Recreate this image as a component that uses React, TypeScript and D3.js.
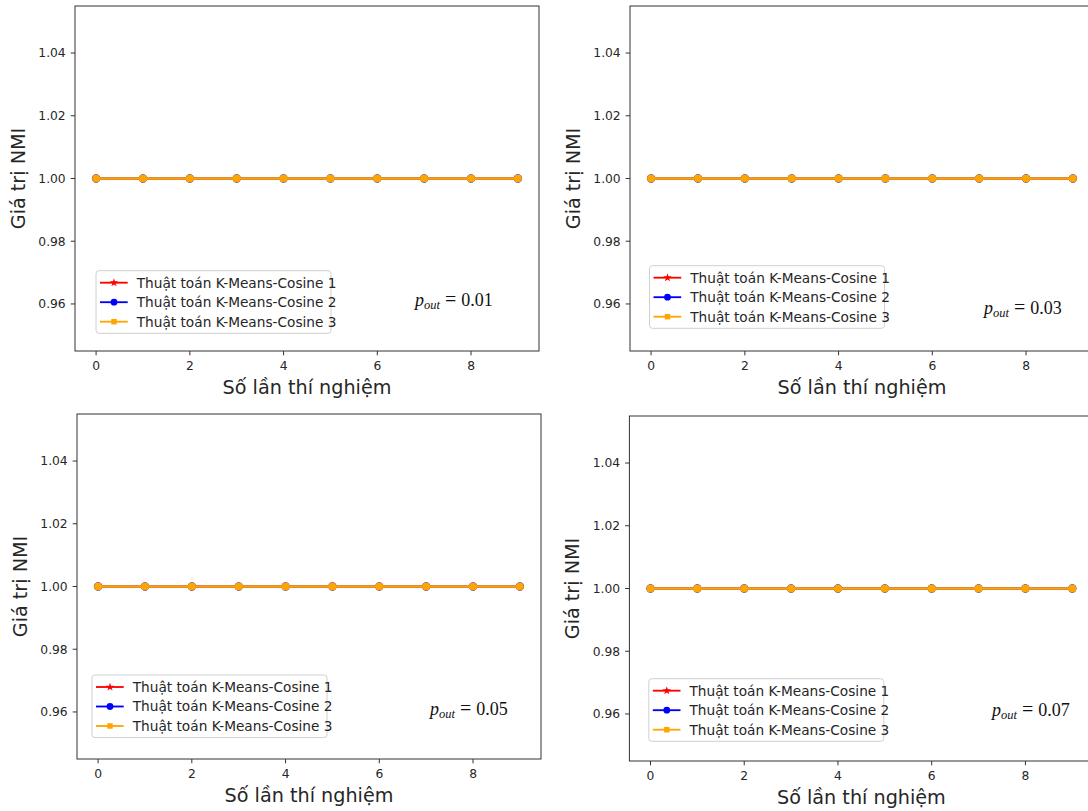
import React from "react";
import * as d3 from "d3";

// ---------- data ----------
const experiments = [0, 1, 2, 3, 4, 5, 6, 7, 8, 9];
const xTicks = [0, 2, 4, 6, 8];
const yTicks = [0.96, 0.98, 1.0, 1.02, 1.04];
const seriesNames = [
  "Thuật toán K-Means-Cosine 1",
  "Thuật toán K-Means-Cosine 2",
  "Thuật toán K-Means-Cosine 3",
];
const pOutValues = ["0.01", "0.03", "0.05", "0.07"];

const nmiP001Alg1 = [1, 1, 1, 1, 1, 1, 1, 1, 1, 1];
const nmiP001Alg2 = [1, 1, 1, 1, 1, 1, 1, 1, 1, 1];
const nmiP001Alg3 = [1, 1, 1, 1, 1, 1, 1, 1, 1, 1];
const nmiP003Alg1 = [1, 1, 1, 1, 1, 1, 1, 1, 1, 1];
const nmiP003Alg2 = [1, 1, 1, 1, 1, 1, 1, 1, 1, 1];
const nmiP003Alg3 = [1, 1, 1, 1, 1, 1, 1, 1, 1, 1];
const nmiP005Alg1 = [1, 1, 1, 1, 1, 1, 1, 1, 1, 1];
const nmiP005Alg2 = [1, 1, 1, 1, 1, 1, 1, 1, 1, 1];
const nmiP005Alg3 = [1, 1, 1, 1, 1, 1, 1, 1, 1, 1];
const nmiP007Alg1 = [1, 1, 1, 1, 1, 1, 1, 1, 1, 1];
const nmiP007Alg2 = [1, 1, 1, 1, 1, 1, 1, 1, 1, 1];
const nmiP007Alg3 = [1, 1, 1, 1, 1, 1, 1, 1, 1, 1];

const panelSeries = [
  [nmiP001Alg1, nmiP001Alg2, nmiP001Alg3],
  [nmiP003Alg1, nmiP003Alg2, nmiP003Alg3],
  [nmiP005Alg1, nmiP005Alg2, nmiP005Alg3],
  [nmiP007Alg1, nmiP007Alg2, nmiP007Alg3],
];

const xLabel = "Số lần thí nghiệm";
const yLabel = "Giá trị NMI";

// ---------- layout / style ----------
const X_DOMAIN: [number, number] = [-0.45, 9.45];
const Y_DOMAIN: [number, number] = [0.945, 1.055];
const AX_W = 464;
const AX_H = 345;

const layout = [
  { left: 75, top: 6, legX: 21, legY: 264.7, annX: 340, annY: 300 },
  { left: 630, top: 6, legX: 19.5, legY: 259.7, annX: 354, annY: 308 },
  { left: 77, top: 414, legX: 15, legY: 261, annX: 353, annY: 301 },
  { left: 629.4, top: 416, legX: 19.4, legY: 262.7, annX: 362.6, annY: 300 },
];

const seriesStyle = [
  { color: "#ff0000", lineW: 1.8, plotSymbol: d3.symbolStar, plotSize: 16, legSymbol: d3.symbolStar, legSize: 22 },
  { color: "#0000ff", lineW: 1.8, plotSymbol: d3.symbolCircle, plotSize: 54, legSymbol: d3.symbolCircle, legSize: 36 },
  { color: "#ffa500", lineW: 2.3, plotSymbol: d3.symbolCircle, plotSize: 50, legSymbol: d3.symbolSquare, legSize: 30 },
];

const SANS = "'DejaVu Sans', sans-serif";
const SERIF = "'Liberation Serif', 'DejaVu Serif', serif";
const TEXT = "#262626";

function Panel({ idx }: { idx: number }) {
  const L = layout[idx];
  const x = d3.scaleLinear().domain(X_DOMAIN).range([0, AX_W]);
  const y = d3.scaleLinear().domain(Y_DOMAIN).range([AX_H, 0]);
  const line = d3
    .line<number>()
    .x((_, i) => x(experiments[i]))
    .y((d) => y(d));
  const series = panelSeries[idx];

  return (
    <g transform={`translate(${L.left},${L.top})`}>
      <rect x={0} y={0} width={AX_W} height={AX_H} fill="#fff" />
      {/* series */}
      {series.map((vals, si) => {
        const st = seriesStyle[si];
        const sym = d3.symbol().type(st.plotSymbol).size(st.plotSize)();
        return (
          <g key={si}>
            <path d={line(vals) || ""} fill="none" stroke={st.color} strokeWidth={st.lineW} />
            {vals.map((v, i) => (
              <path
                key={i}
                d={sym || ""}
                transform={`translate(${x(experiments[i])},${y(v)})`}
                fill={st.color}
              />
            ))}
          </g>
        );
      })}
      {/* frame */}
      <rect x={0} y={0} width={AX_W} height={AX_H} fill="none" stroke="#333" strokeWidth={1} />
      {/* x ticks */}
      {xTicks.map((t) => (
        <g key={t} transform={`translate(${x(t)},${AX_H})`}>
          <line y1={0} y2={4.3} stroke="#333" strokeWidth={1} />
          <text y={19} textAnchor="middle" fontFamily={SANS} fontSize={12.3} fill={TEXT}>
            {d3.format("d")(t)}
          </text>
        </g>
      ))}
      {/* y ticks */}
      {yTicks.map((t) => (
        <g key={t} transform={`translate(0,${y(t)})`}>
          <line x1={0} x2={-4.3} stroke="#333" strokeWidth={1} />
          <text x={-9.3} dy="0.36em" textAnchor="end" fontFamily={SANS} fontSize={12.3} fill={TEXT}>
            {d3.format(".2f")(t)}
          </text>
        </g>
      ))}
      {/* axis labels */}
      <text
        x={AX_W / 2}
        y={AX_H + 42.5}
        textAnchor="middle"
        fontFamily={SANS}
        fontSize={19.2}
        fill={TEXT}
      >
        {xLabel}
      </text>
      <text
        transform={`translate(-50,${AX_H / 2}) rotate(-90)`}
        textAnchor="middle"
        fontFamily={SANS}
        fontSize={19.2}
        fill={TEXT}
      >
        {yLabel}
      </text>
      {/* legend */}
      <g transform={`translate(${L.legX},${L.legY})`}>
        <rect
          x={0}
          y={0}
          width={235}
          height={62.6}
          rx={3}
          fill="#fff"
          fillOpacity={0.8}
          stroke="#d0d0d0"
          strokeWidth={1}
        />
        {seriesNames.map((name, si) => {
          const st = seriesStyle[si];
          const sym = d3.symbol().type(st.legSymbol).size(st.legSize)();
          const cy = 12 + si * 19.5;
          return (
            <g key={si} transform={`translate(0,${cy})`}>
              <line x1={4} x2={31.7} stroke={st.color} strokeWidth={1.85} />
              <path d={sym || ""} transform="translate(18,0)" fill={st.color} />
              <text x={40.7} dy="0.36em" fontFamily={SANS} fontSize={13.7} fill={TEXT}>
                {name}
              </text>
            </g>
          );
        })}
      </g>
      {/* annotation */}
      <text x={L.annX} y={L.annY} fontFamily={SERIF} fontSize={18} fill="#111">
        <tspan fontStyle="italic">p</tspan>
        <tspan fontStyle="italic" fontSize={12.5} dy={3}>
          out
        </tspan>
        <tspan dy={-3} dx={5} fontSize={20}>=</tspan>
        <tspan dx={5}>{pOutValues[idx]}</tspan>
      </text>
    </g>
  );
}

export default function App() {
  return (
    <div style={{ position: "absolute", left: 0, top: 0 }}>
      <svg width={1088} height={811} style={{ display: "block", background: "#fff" }}>
        <rect width={1088} height={811} fill="#fff" />
        {layout.map((_, i) => (
          <Panel key={i} idx={i} />
        ))}
      </svg>
    </div>
  );
}
